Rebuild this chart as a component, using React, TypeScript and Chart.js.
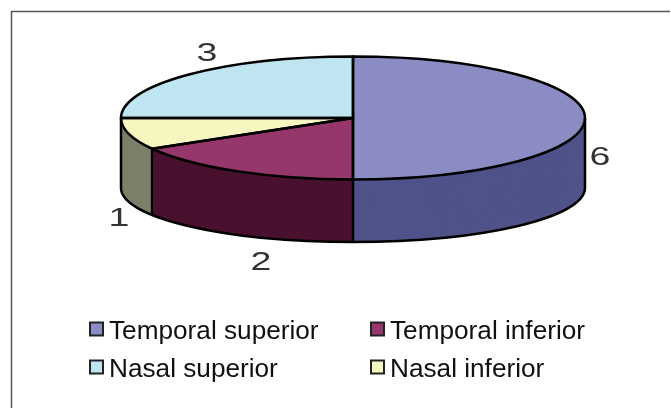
import React, { useEffect, useRef } from "react";
import { Chart, registerables } from "chart.js";

Chart.register(...registerables);

const categories = ["Temporal superior", "Temporal inferior", "Nasal inferior", "Nasal superior"];
const counts = [6, 2, 1, 3];
const topColors = ["#8B8CC4", "#96376B", "#F7F5C0", "#BFE5F0"];
const sideColors = ["#50538A", "#4A1230", "#7B8068", "#5F7278"];
const legendOrder = [0, 1, 3, 2];

const labelOffsets = [[15, 40], [24, 92], [-10, 85], [18, -20]];
const pieGeom = { cx: 353, cy: 118, rx: 232, ry: 61.5, drop: 70, bottomRy: 54 };
const legendGeom = { xs: [90, 371], ys: [329, 367], box: 13, textGap: 6, font: 26.2 };

const pie3d = {
  id: "pie3d",
  beforeDraw(chart: any) {
    const { ctx, width, height } = chart;
    ctx.save();
    ctx.strokeStyle = "#555555";
    ctx.lineWidth = 1.5;
    ctx.beginPath();
    ctx.moveTo(11.5, height);
    ctx.lineTo(11.5, 11.5);
    ctx.lineTo(width - 1, 11.5);
    ctx.stroke();
    ctx.restore();
  },
  beforeDatasetsDraw(chart: any) {
    const { ctx } = chart;
    const arcs = chart.getDatasetMeta(0).data;
    const g = pieGeom;
    const steps = 140;
    ctx.save();
    for (let s = steps; s >= 0; s--) {
      const t = s / steps;
      const cy = g.cy + g.drop * t;
      const ry = g.ry + (g.bottomRy - g.ry) * t;
      arcs.forEach((a: any, i: number) => {
        ctx.fillStyle = sideColors[i];
        ctx.beginPath();
        ctx.moveTo(g.cx, cy);
        ctx.ellipse(g.cx, cy, g.rx, ry, 0, a.startAngle, a.endAngle);
        ctx.closePath();
        ctx.fill();
      });
    }
    ctx.restore();
    const a0 = arcs[0];
    const R = a0.outerRadius;
    ctx.save();
    ctx.translate(g.cx, g.cy);
    ctx.scale(g.rx / R, g.ry / R);
    ctx.translate(-a0.x, -a0.y);
  },
  afterDatasetsDraw(chart: any) {
    const { ctx } = chart;
    ctx.restore();
    const arcs = chart.getDatasetMeta(0).data;
    const g = pieGeom;
    const botY = g.cy + g.drop;
    ctx.save();
    ctx.strokeStyle = "#000000";
    ctx.lineWidth = 2.5;
    ctx.lineJoin = "round";
    // front rim of the base
    ctx.beginPath();
    ctx.ellipse(g.cx, botY, g.rx, g.bottomRy, 0, 0, Math.PI);
    ctx.stroke();
    // vertical edges at slice boundaries and silhouette
    const edge = (phi: number) => {
      ctx.beginPath();
      ctx.moveTo(g.cx + g.rx * Math.cos(phi), g.cy + g.ry * Math.sin(phi));
      ctx.lineTo(g.cx + g.rx * Math.cos(phi), botY + g.bottomRy * Math.sin(phi));
      ctx.stroke();
    };
    edge(0);
    edge(Math.PI);
    arcs.forEach((a: any) => {
      const e = a.endAngle;
      if (Math.sin(e) > 0.01) edge(e);
    });
    // top face outline
    arcs.forEach((a: any) => {
      ctx.beginPath();
      ctx.moveTo(g.cx, g.cy);
      ctx.ellipse(g.cx, g.cy, g.rx, g.ry, 0, a.startAngle, a.endAngle);
      ctx.closePath();
      ctx.stroke();
    });
    ctx.restore();

    // value labels, stretched like the reference's wide digits
    ctx.save();
    ctx.fillStyle = "#333333";
    ctx.font = '25px "Liberation Sans"';
    ctx.textAlign = "center";
    ctx.textBaseline = "middle";
    arcs.forEach((a: any, i: number) => {
      const mid = (a.startAngle + a.endAngle) / 2;
      const x = g.cx + g.rx * Math.cos(mid) + labelOffsets[i][0];
      const y = g.cy + g.ry * Math.sin(mid) + labelOffsets[i][1];
      ctx.save();
      ctx.translate(x, y);
      ctx.scale(1.5, 1);
      ctx.fillText(String(chart.data.datasets[0].data[i]), 0, 0);
      ctx.restore();
    });
    ctx.restore();

    // legend
    const L = legendGeom;
    ctx.save();
    ctx.font = `${L.font}px "Liberation Sans"`;
    ctx.textBaseline = "alphabetic";
    ctx.textAlign = "left";
    legendOrder.forEach((idx, n) => {
      const x = L.xs[n % 2];
      const y = L.ys[Math.floor(n / 2)];
      ctx.fillStyle = topColors[idx];
      ctx.strokeStyle = "#222222";
      ctx.lineWidth = 2;
      ctx.fillRect(x, y - L.box / 2, L.box, L.box);
      ctx.strokeRect(x, y - L.box / 2, L.box, L.box);
      ctx.fillStyle = "#111111";
      ctx.fillText(categories[idx], x + L.box + L.textGap, y + 9.5);
    });
    ctx.restore();
  },
};

export default function App() {
  const ref = useRef<HTMLCanvasElement>(null);
  useEffect(() => {
    document.body.style.margin = "0";
    const chart = new Chart(ref.current!, {
      type: "pie",
      data: {
        labels: categories,
        datasets: [{ data: counts, backgroundColor: topColors, borderWidth: 0, clip: false } as any],
      },
      options: {
        responsive: false,
        animation: false,
        plugins: { legend: { display: false }, tooltip: { enabled: false } },
      },
      plugins: [pie3d],
    });
    return () => chart.destroy();
  }, []);
  return <canvas ref={ref} width={671} height={408} style={{ display: "block" }} />;
}
